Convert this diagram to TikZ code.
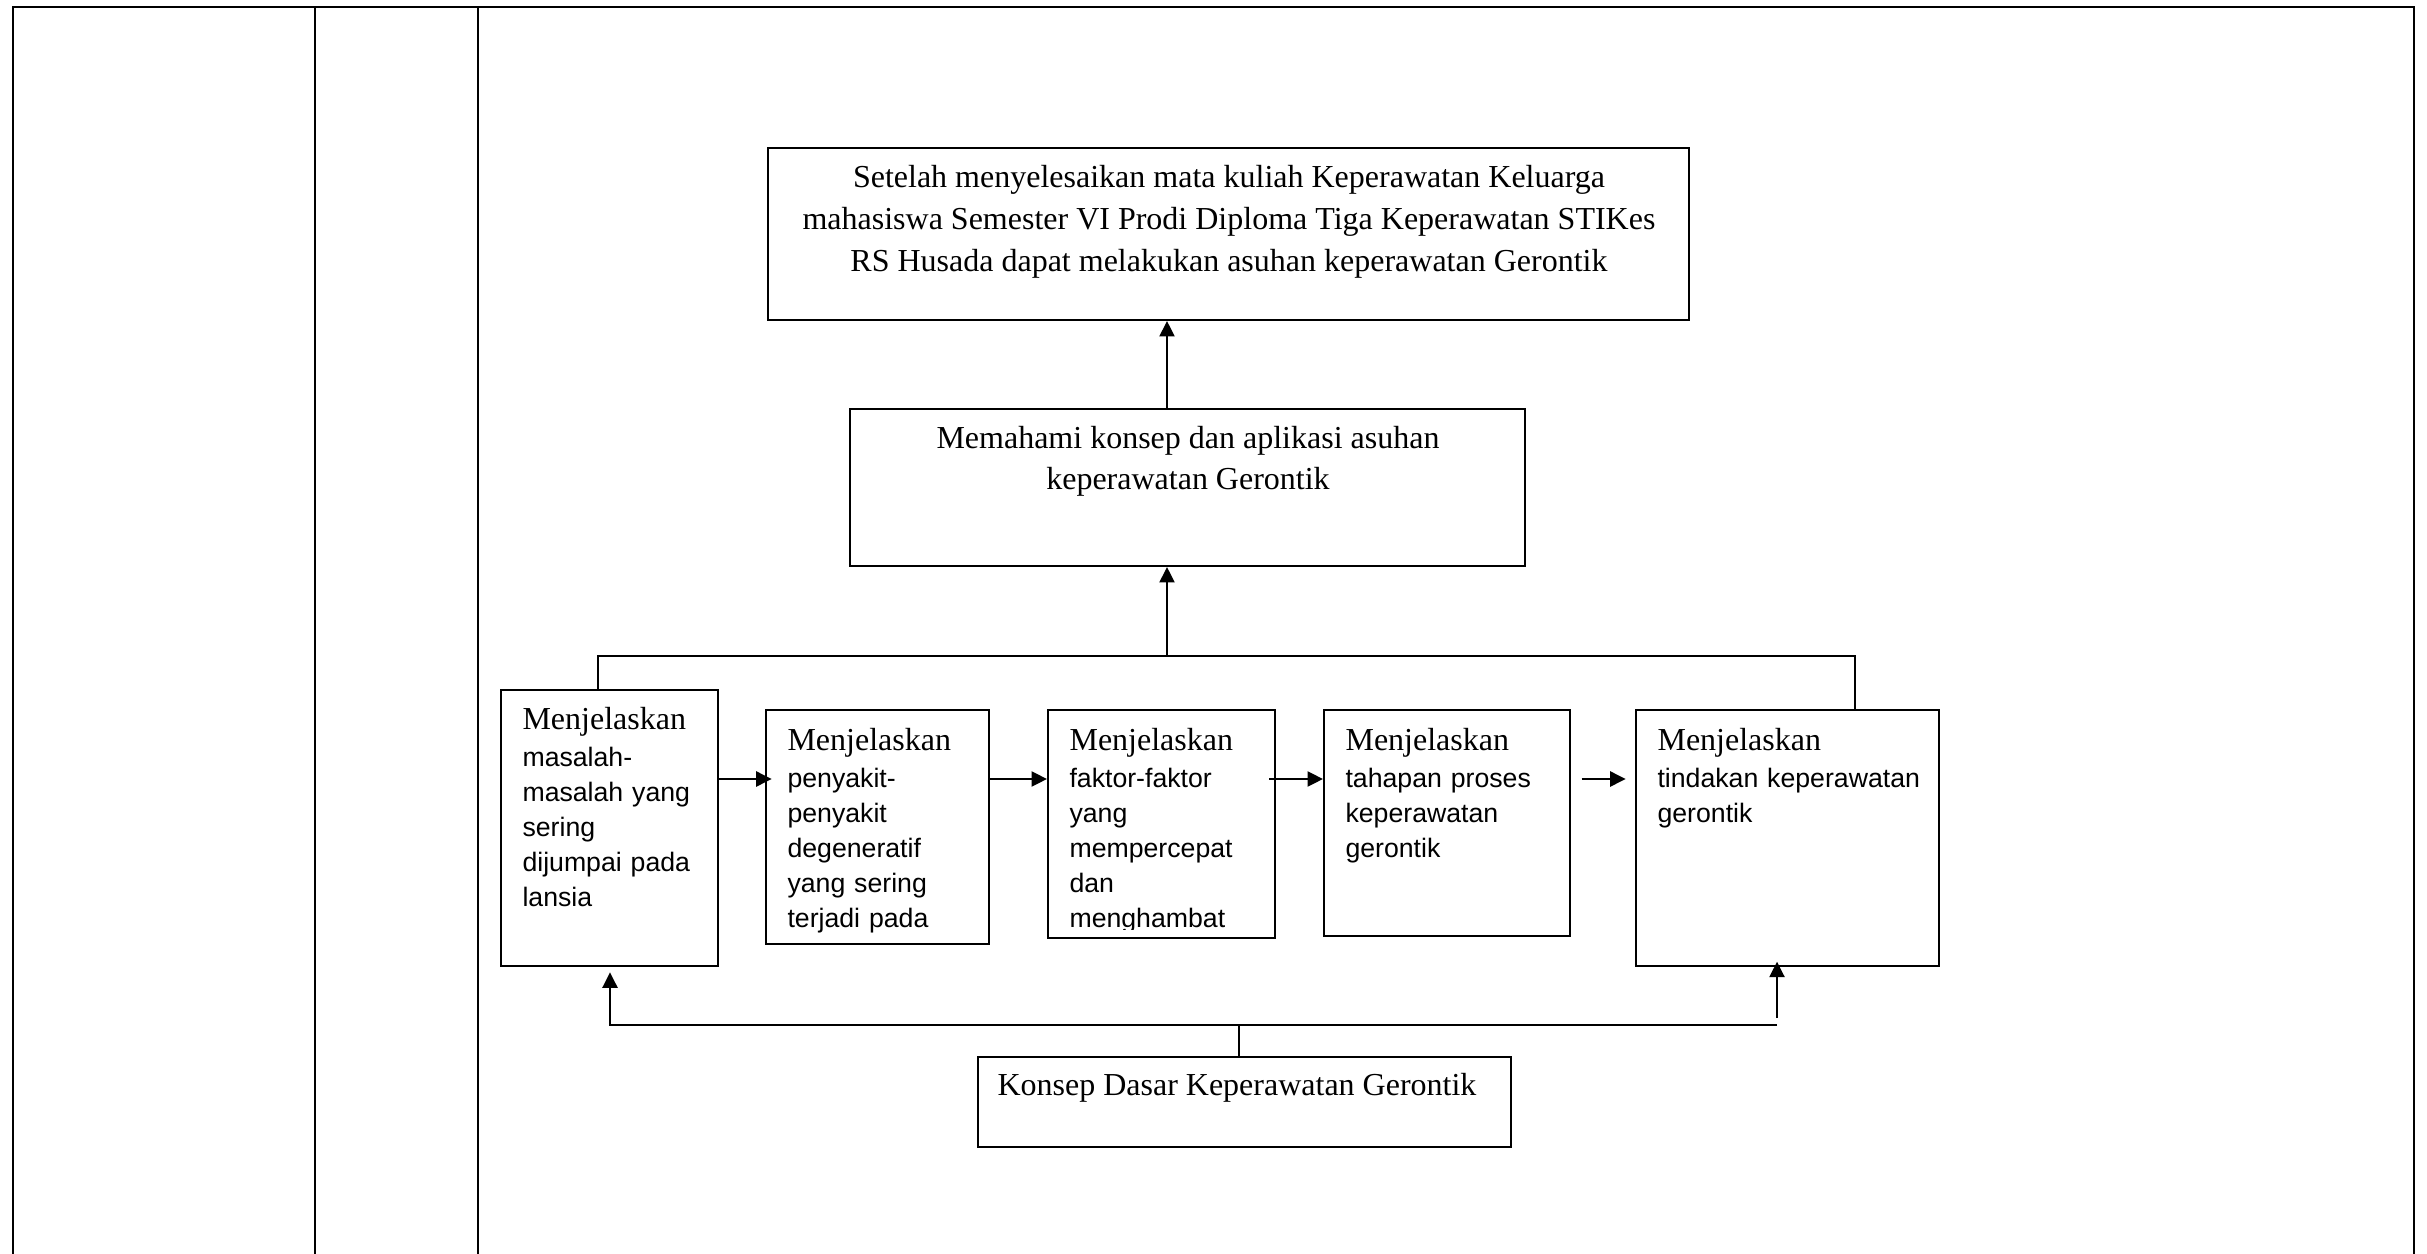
\documentclass[tikz,border=0pt]{standalone}
\usepackage{fontspec}
\setmainfont{Liberation Serif}
\setsansfont{Liberation Sans}
\usetikzlibrary{arrows.meta,calc,fit}
\newcommand{\px}{0.375pt}
\newcommand{\mjl}{{\rmfamily\fontsize{12}{14}\selectfont Menjelaskan}\\[1.1pt]}
\tikzset{
  box/.style={draw, line width=0.75pt, inner sep=0pt},
  arr/.style={line width=0.9pt, -{Triangle[length=5.8pt,width=5.6pt]}},
  serif/.style={inner sep=0pt, font=\fontsize{12}{15.7}\selectfont},
  sans/.style={inner sep=0pt, anchor=base west, text width=110pt, align=left,
    font=\sffamily\fontsize{10}{13.1}\selectfont},
}

\begin{document}
\begin{tikzpicture}[x=\px, y=-\px]
      \useasboundingbox (0,0) rectangle (2427,1254) ;
      % tabel
      \draw[line width=0.8pt] (13,1254) -- (13,7) -- (2414,7) -- (2414,1254) ;
      \draw[line width=0.8pt] (315,7) -- (315,1254) (478,7) -- (478,1254) ;
      % kotak
      \node[box, fit={(768,148) (1689,320)}] (goal) {} ;
      \node[box, fit={(850,409) (1525,566)}] (mem) {} ;
      \node[box, fit={(501,690) (718,966)}] (b1) {} ;
      \node[box, fit={(766,710) (989,944)}] (b2) {} ;
      \node[box, fit={(1048,710) (1275,938)}] (b3) {} ;
      \node[box, fit={(1324,710) (1570,936)}] (b4) {} ;
      \node[box, fit={(1636,710) (1939,966)}] (b5) {} ;
      \node[box, fit={(978,1057) (1511,1147)}] (kon) {} ;
      % teks
      \node[serif, anchor=base, text width=345pt, align=flush center] (tgoal) at (1229,188)
        {Setelah menyelesaikan mata kuliah Keperawatan Keluarga\\
         mahasiswa Semester VI Prodi Diploma Tiga Keperawatan STIKes\\
         RS Husada dapat melakukan asuhan keperawatan Gerontik} ;
      \node[serif, anchor=base, text width=250pt, align=flush center] (tmem) at (1188,448)
        {Memahami konsep dan aplikasi asuhan\\ keperawatan Gerontik} ;
      \node[serif, anchor=base west] (tkon) at (997,1095) {Konsep Dasar Keperawatan Gerontik} ;
      \node[sans] (t1) at (522,729) {\mjl masalah-\\ masalah yang\\ sering\\ dijumpai pada\\ lansia} ;
      \node[sans] (t2) at (787,750) {\mjl penyakit-\\ penyakit\\ degeneratif\\ yang sering\\ terjadi pada} ;
      \begin{scope}
        \clip (b3.north west) rectangle ($(b3.south east)+(0,-10)$) ;
        \node[sans] (t3) at (1069,750) {\mjl faktor-faktor\\ yang\\ mempercepat\\ dan\\ menghambat} ;
      \end{scope}
      \node[sans] (t4) at (1345,750) {\mjl tahapan proses\\ keperawatan\\ gerontik} ;
      \node[sans] (t5) at (1657,750) {\mjl tindakan keperawatan\\ gerontik} ;
      % garis atas
      \coordinate (ul) at (598,656) ;
      \coordinate (uj) at (1167,656) ;
      \coordinate (ur) at (1855,656) ;
      \draw[line width=0.75pt] (ul |- b1.north) -- (ul) -- (ur) -- (ur |- b5.north) ;
      \draw[arr] (uj) -- (uj |- mem.south) ;
      \draw[arr] (uj |- mem.north) -- (uj |- goal.south) ;
      % panah mendatar
      \coordinate (ar) at (0,779) ;
      \draw[arr, shorten >=-2.5pt] (b1.east |- ar) -- (b2.west |- ar) ;
      \draw[arr] (b2.east |- ar) -- (b3.west |- ar) ;
      \draw[arr, shorten <=-2.5pt] (b3.east |- ar) -- (b4.west |- ar) ;
      \draw[arr, shorten <=4pt, shorten >=3.5pt] (b4.east |- ar) -- (b5.west |- ar) ;
      % garis bawah
      \coordinate (ll) at (610,1025) ;
      \coordinate (lj) at (1239,1025) ;
      \coordinate (lr) at (1777,1025) ;
      \draw[line width=0.75pt] (kon.north -| lj) -- (lj) ;
      \draw[arr, shorten >=2pt] (lr) -- (ll) -- (ll |- b1.south) ;
      \draw[arr, shorten >=-2pt] ($(lr)+(0,-7)$) -- (lr |- b5.south) ;
\end{tikzpicture}
\end{document}
